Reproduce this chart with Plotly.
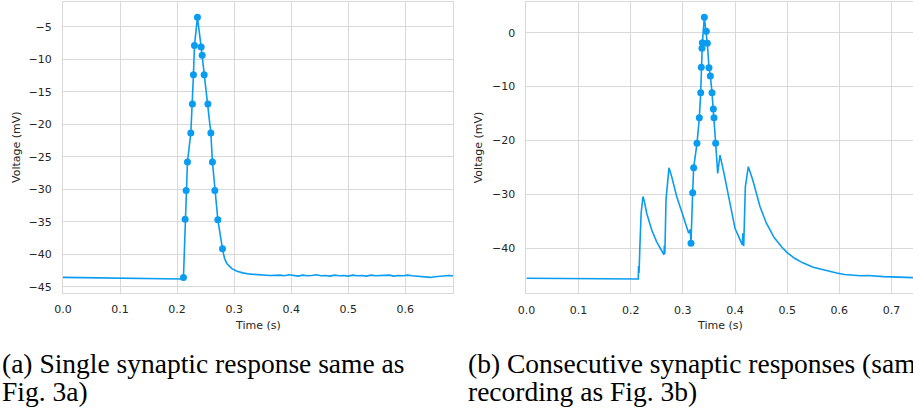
import plotly.graph_objects as go

# ---------------- data ----------------
# Panel (a): single synaptic response
a_line_t = [0.000, 0.050, 0.100, 0.150, 0.200, 0.208,
            0.2111, 0.2140, 0.2158, 0.2181, 0.2240, 0.2268, 0.2286, 0.2304, 0.2356,
            0.2421, 0.2439, 0.2474, 0.2539, 0.2591, 0.2619, 0.2661, 0.2714, 0.2795,
            0.2830, 0.2870, 0.2920, 0.2960, 0.3050, 0.3150, 0.3280, 0.3450, 0.3630,
            0.380, 0.388, 0.396, 0.404, 0.412, 0.420, 0.428, 0.436, 0.444, 0.452,
            0.460, 0.468, 0.476, 0.484, 0.492, 0.500, 0.508, 0.516, 0.524, 0.532,
            0.540, 0.548, 0.556, 0.564, 0.572, 0.580, 0.588, 0.596, 0.604, 0.612,
            0.620, 0.628, 0.636, 0.644, 0.652, 0.660, 0.668, 0.676, 0.684]
a_line_v = [-43.55, -43.60, -43.65, -43.70, -43.75, -43.80,
            -43.55, -34.6, -30.2, -25.8, -21.35, -16.9, -12.4, -7.9, -3.55,
            -8.1, -9.4, -12.4, -16.9, -21.35, -25.8, -30.2, -34.7, -39.15,
            -40.6, -41.4, -41.9, -42.2, -42.6, -42.85, -43.05, -43.15, -43.25,
            -43.2, -43.3, -43.15, -43.25, -43.35, -43.2, -43.3, -43.25, -43.15, -43.3,
            -43.25, -43.35, -43.2, -43.3, -43.25, -43.35, -43.2, -43.3, -43.25, -43.35,
            -43.2, -43.3, -43.25, -43.3, -43.2, -43.35, -43.25, -43.3, -43.2, -43.3,
            -43.35, -43.4, -43.5, -43.55, -43.45, -43.35, -43.3, -43.25, -43.3]
a_mark_t = [0.2111, 0.2140, 0.2158, 0.2181, 0.2240, 0.2268, 0.2286, 0.2304, 0.2356,
            0.2421, 0.2439, 0.2474, 0.2539, 0.2591, 0.2619, 0.2661, 0.2714, 0.2795]
a_mark_v = [-43.55, -34.6, -30.2, -25.8, -21.35, -16.9, -12.4, -7.9, -3.55,
            -8.1, -9.4, -12.4, -16.9, -21.35, -25.8, -30.2, -34.7, -39.15]

# Panel (b): consecutive synaptic responses
b_line_t = [0.000, 0.050, 0.100, 0.150, 0.200, 0.2145, 0.2150, 0.2160, 0.2175, 0.2200,
            0.2235, 0.2260, 0.2307, 0.2403, 0.2498, 0.2594, 0.2638, 0.2645, 0.2655,
            0.2677, 0.2734, 0.2786, 0.2882, 0.2978, 0.3060, 0.3112, 0.3143,
            0.3156, 0.3188, 0.3207, 0.3271, 0.3316, 0.3342, 0.3354, 0.3367, 0.3374,
            0.3412, 0.3450, 0.3469, 0.3501, 0.3527, 0.3559, 0.3585, 0.3597, 0.3629,
            0.3668, 0.3712, 0.3789, 0.3872, 0.3936, 0.4000, 0.4083, 0.4140, 0.4150,
            0.4167, 0.4198, 0.4255, 0.4339, 0.4416, 0.4480, 0.4600, 0.4750, 0.4900,
            0.5000, 0.5150, 0.5300, 0.5500, 0.5650, 0.5800, 0.5950, 0.6100, 0.6250,
            0.6400, 0.6550, 0.6700, 0.6850, 0.7000, 0.7150, 0.7300, 0.7420]
b_line_v = [-45.57, -45.60, -45.62, -45.65, -45.68, -45.70, -43.30, -44.60, -40.00, -33.50,
            -30.40, -31.20, -33.50, -36.60, -38.80, -40.60, -41.20, -39.50, -41.00,
            -31.00, -25.05, -26.70, -30.40, -33.20, -35.70, -37.20, -36.50,
            -39.07, -29.68, -25.04, -20.53, -15.76, -11.13, -6.43, -2.90, -1.85,
            2.85, 0.25, -1.97, -6.49, -8.03, -11.13, -14.16, -15.76, -20.53,
            -26.10, -22.70, -26.10, -30.40, -33.50, -36.30, -38.10, -39.40, -37.20,
            -39.60, -28.60, -24.86, -27.30, -30.10, -32.30, -35.30, -38.00, -39.80,
            -40.80, -41.90, -42.70, -43.50, -43.90, -44.30, -44.60, -44.85, -45.00,
            -45.10, -45.05, -45.20, -45.25, -45.30, -45.35, -45.40, -45.45]
b_mark_t = [0.3156, 0.3188, 0.3207, 0.3271, 0.3316, 0.3342, 0.3354, 0.3367, 0.3374,
            0.3412, 0.3450, 0.3469, 0.3501, 0.3527, 0.3559, 0.3585, 0.3597, 0.3629]
b_mark_v = [-39.07, -29.68, -25.04, -20.53, -15.76, -11.13, -6.43, -2.90, -1.85,
            2.85, 0.25, -1.97, -6.49, -8.03, -11.13, -14.16, -15.76, -20.53]

a_xticks = [0.0, 0.1, 0.2, 0.3, 0.4, 0.5, 0.6]
a_yticks = [-45, -40, -35, -30, -25, -20, -15, -10, -5]
b_xticks = [0.0, 0.1, 0.2, 0.3, 0.4, 0.5, 0.6, 0.7]
b_yticks = [-40, -30, -20, -10, 0]

caption_a = ["(a) Single synaptic response same as", "Fig. 3a)"]
caption_b = ["(b) Consecutive synaptic responses (same", "recording as Fig. 3b)"]
x_title = "Time (s)"
y_title = "Voltage (mV)"

# ---------------- styling ----------------
W, H = 913, 411
BLUE = "#0a9cf0"
GRID = "#d9d9d9"
TXT = "#262626"
SANS = "DejaVu Sans"
SERIF = "Liberation Serif"

fig = go.Figure()
fig.add_trace(go.Scatter(x=a_line_t, y=a_line_v, mode="lines",
                         line=dict(color=BLUE, width=1.6), xaxis="x", yaxis="y",
                         showlegend=False, hoverinfo="skip"))
fig.add_trace(go.Scatter(x=a_mark_t, y=a_mark_v, mode="markers",
                         marker=dict(color=BLUE, size=7), xaxis="x", yaxis="y",
                         showlegend=False, hoverinfo="skip"))
fig.add_trace(go.Scatter(x=b_line_t, y=b_line_v, mode="lines",
                         line=dict(color=BLUE, width=1.6), xaxis="x2", yaxis="y2",
                         showlegend=False, hoverinfo="skip"))
fig.add_trace(go.Scatter(x=b_mark_t, y=b_mark_v, mode="markers",
                         marker=dict(color=BLUE, size=7), xaxis="x2", yaxis="y2",
                         showlegend=False, hoverinfo="skip"))

def px_x(p):
    return p / W

def px_y(p):
    return 1 - p / H

axis_common = dict(showgrid=True, gridcolor=GRID, gridwidth=1, zeroline=False,
                   showline=True, linecolor=GRID, linewidth=1, mirror=True,
                   ticks="", automargin=False,
                   tickfont=dict(family=SANS, size=11, color=TXT))

fig.update_layout(
    width=W, height=H,
    margin=dict(l=0, r=0, t=0, b=0, pad=0, autoexpand=False),
    paper_bgcolor="white", plot_bgcolor="white",
    hovermode=False,
    xaxis=dict(domain=[px_x(63), px_x(453.3)], range=[0, 0.684],
               tickvals=a_xticks, tickformat=".1f", anchor="y",
               ticklabelstandoff=6, **axis_common),
    yaxis=dict(domain=[px_y(292.7), px_y(1.7)], range=[-45.9, -1.15],
               tickvals=a_yticks, anchor="x", ticklabelstandoff=8, **axis_common),
    xaxis2=dict(domain=[px_x(526.4), 1.0], range=[0, 0.7413],
                tickvals=b_xticks, tickformat=".1f", anchor="y2",
                ticklabelstandoff=6, **axis_common),
    yaxis2=dict(domain=[px_y(293.3), px_y(1.7)], range=[-48.35, 5.75],
                tickvals=b_yticks, anchor="x2", ticklabelstandoff=8, **axis_common),
)

ann = []
for cx in [(63 + 453.3) / 2, (526.4 + 913) / 2]:
    ann.append(dict(text=x_title, x=px_x(cx), y=px_y(325), xref="paper", yref="paper",
                    xanchor="center", yanchor="middle", showarrow=False,
                    font=dict(family=SANS, size=11, color=TXT)))
for cx in [16, 478.3]:
    ann.append(dict(text=y_title, x=px_x(cx), y=px_y(147), xref="paper", yref="paper",
                    xanchor="center", yanchor="middle", showarrow=False, textangle=-90,
                    font=dict(family=SANS, size=11, color=TXT)))
for lines, x0 in [(caption_a, 0), (caption_b, 466)]:
    for i, (txt, cy) in enumerate(zip(lines, [363, 391])):
        ann.append(dict(text=txt, x=px_x(x0), y=px_y(cy), xref="paper", yref="paper",
                        xanchor="left", yanchor="middle", showarrow=False,
                        font=dict(family=SERIF, size=27.5, color="#000000")))
fig.update_layout(annotations=ann)

fig.write_html(
    "out.html",
    config={"displayModeBar": False, "staticPlot": True},
    post_script="document.body.style.margin='0';document.body.style.overflow='hidden';",
)
